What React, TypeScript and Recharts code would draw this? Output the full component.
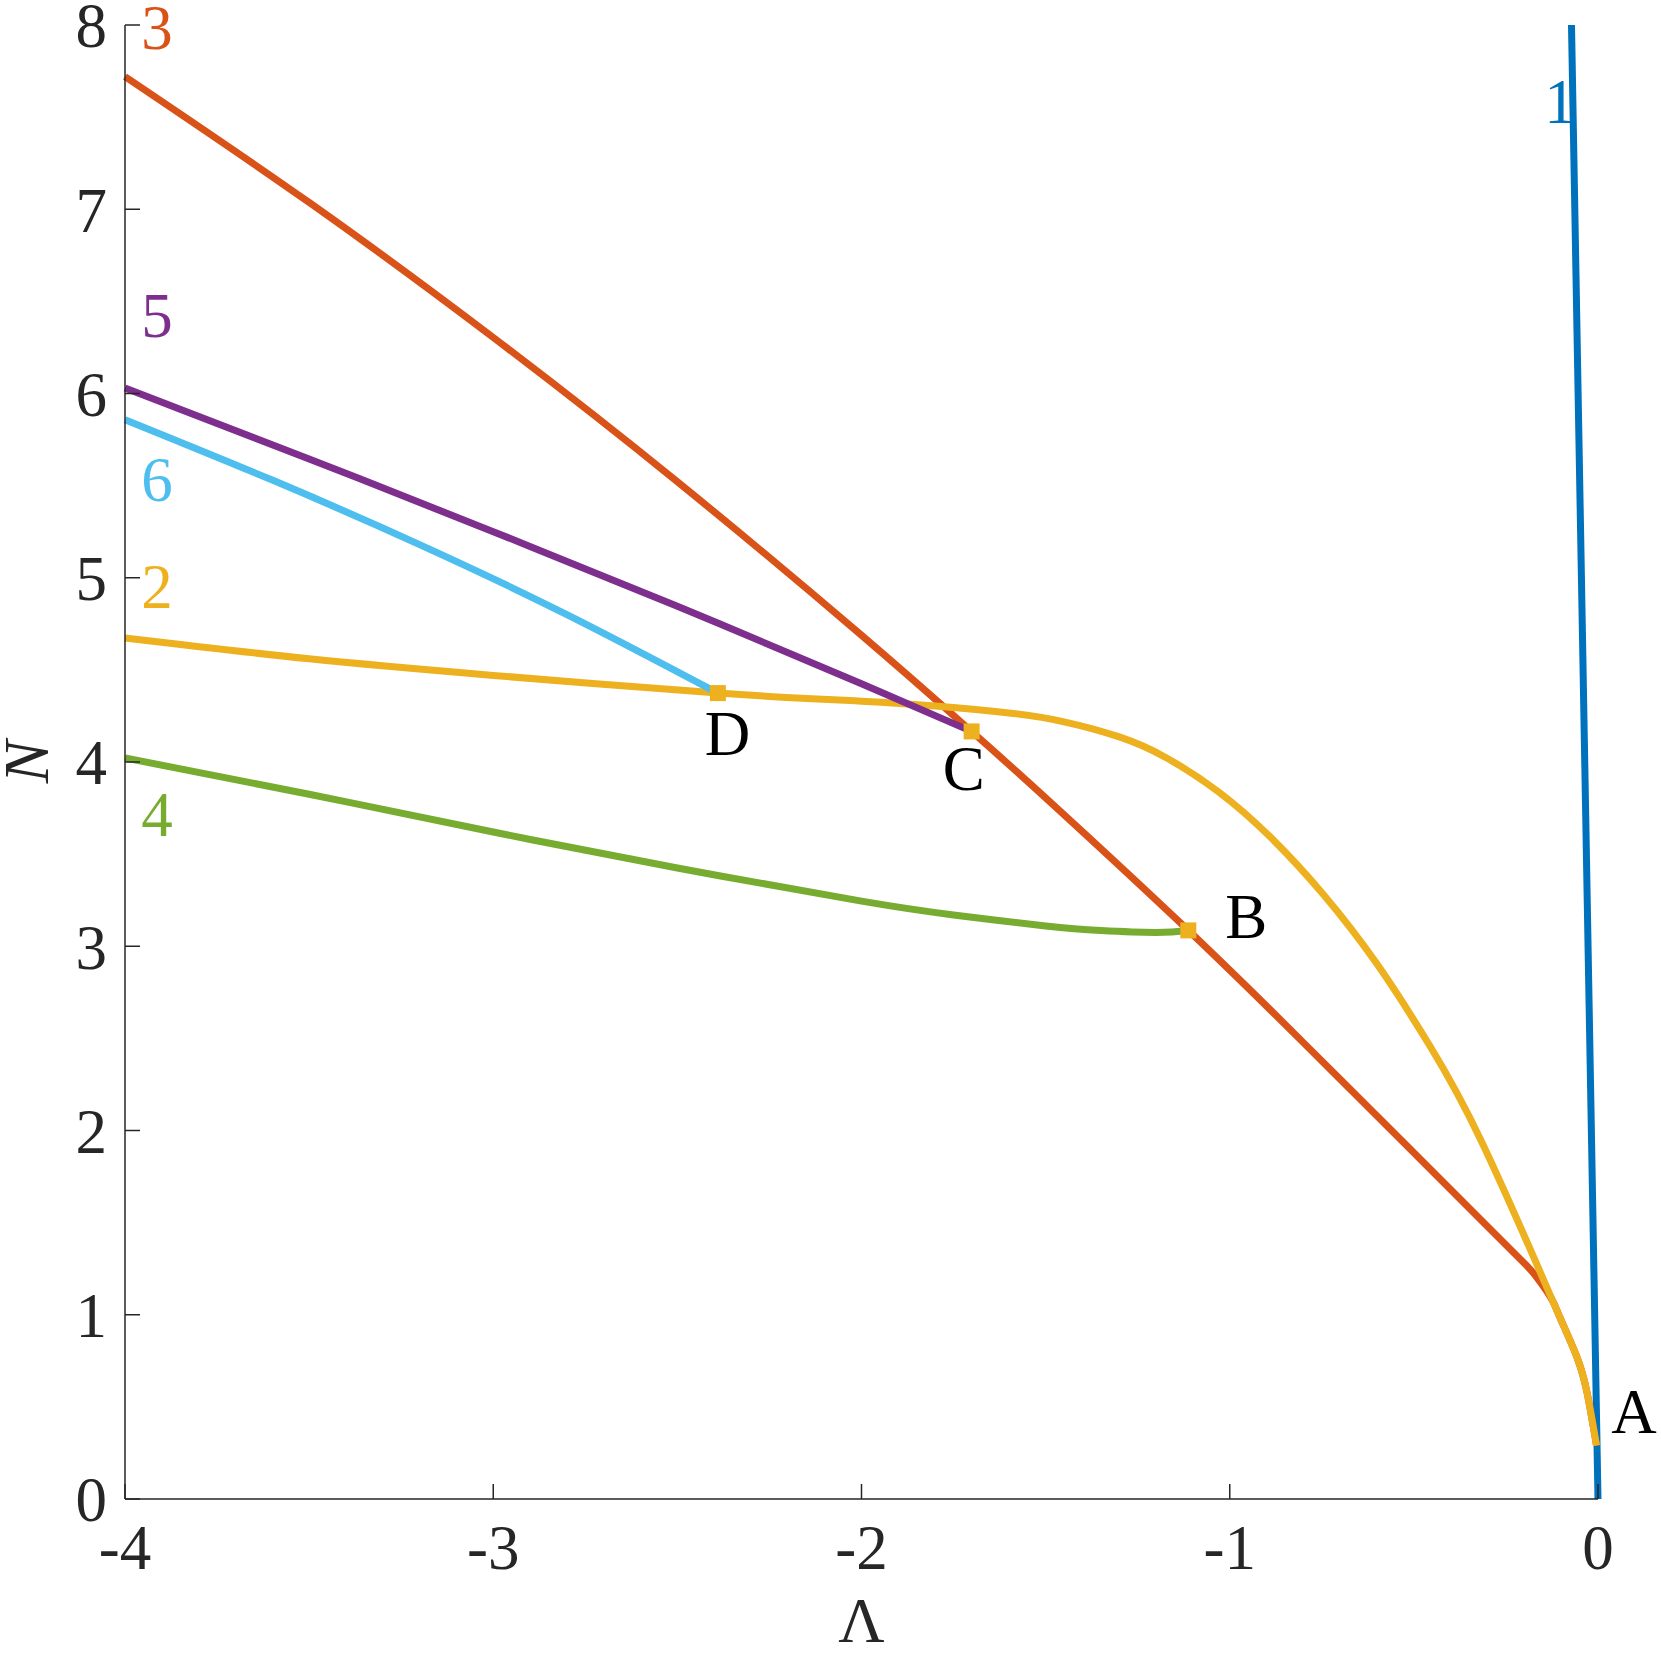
import React from "react";
import { ComposedChart, Line, Scatter, XAxis, YAxis, ReferenceDot } from "recharts";

const SERIF = "'Liberation Serif', 'DejaVu Serif', serif";
const AXIS = "#262626";

const xTicks = [-4, -3, -2, -1, 0];
const yTicks = [0, 1, 2, 3, 4, 5, 6, 7, 8];

// curve 1 (blue, nearly vertical)
const lambda1 = [-0.072, 0];
const n1 = [8, 0];

// curve 3 (orange)
const lambda3 = [-4, -3.5, -3, -2.5, -2, -1.701, -1.5, -1.1125, -0.8, -0.5, -0.3, -0.2, -0.171, -0.14, -0.12, -0.1, -0.058, -0.03, -0.004];
const n3 = [7.72, 7.037, 6.304, 5.521, 4.688, 4.166, 3.805, 3.086, 2.477, 1.879, 1.479, 1.279, 1.215, 1.13, 1.062, 0.97, 0.774, 0.58, 0.29];

// curve 2 (yellow)
const lambda2 = [-4, -3.5, -3, -2.39, -2, -1.8, -1.6, -1.45, -1.3, -1.175, -1.03, -0.887, -0.744, -0.6, -0.456, -0.316, -0.144, -0.1, -0.058, -0.03, -0.004];
const n2 = [4.673, 4.56, 4.47, 4.374, 4.33, 4.304, 4.266, 4.218, 4.136, 4.026, 3.837, 3.587, 3.277, 2.903, 2.457, 1.939, 1.172, 0.97, 0.774, 0.58, 0.29];

// curve 4 (green)
const lambda4 = [-4, -3.5, -3, -2.5, -2, -1.75, -1.5, -1.35, -1.2, -1.1125];
const n4 = [4.022, 3.825, 3.62, 3.425, 3.245, 3.17, 3.11, 3.085, 3.075, 3.086];

// curve 5 (purple)
const lambda5 = [-4, -3.5, -3, -2.5, -2, -1.701];
const n5 = [6.03, 5.645, 5.25, 4.845, 4.425, 4.166];

// curve 6 (cyan)
const lambda6 = [-4, -3.6, -3.2, -2.8, -2.39];
const n6 = [5.858, 5.53, 5.18, 4.8, 4.374];

// junction markers B, C, D
const markerLambda = [-1.1125, -1.701, -2.39];
const markerN = [3.086, 4.166, 4.374];

// text annotations
const noteText = ["1", "3", "5", "6", "2", "4", "A", "B", "C", "D"];
const noteLambda = [-0.103, -3.913, -3.913, -3.913, -3.913, -3.913, 0.098, -0.955, -1.722, -2.364];
const noteN = [7.57, 7.97, 6.41, 5.52, 4.94, 3.7, 0.46, 3.15, 3.95, 4.14];
const noteColor = ["#0072BD", "#D95319", "#7E2F8E", "#4DBEEE", "#EDB120", "#77AC30", "#000", "#000", "#000", "#000"];

const zip = (xs: number[], ys: number[]) => xs.map((x, i) => ({ x, y: ys[i] }));

const series = [
  { key: "c1", data: zip(lambda1, n1), color: "#0072BD", type: "linear" as const },
  { key: "c3", data: zip(lambda3, n3), color: "#D95319", type: "natural" as const },
  { key: "c2", data: zip(lambda2, n2), color: "#EDB120", type: "natural" as const },
];
const laterSeries = [
  { key: "c4", data: zip(lambda4, n4), color: "#77AC30" },
  { key: "c5", data: zip(lambda5, n5), color: "#7E2F8E" },
  { key: "c6", data: zip(lambda6, n6), color: "#4DBEEE" },
];

const markers = zip(markerLambda, markerN);

export default function App() {
  return (
    <div style={{ position: "absolute", left: 0, top: 0, background: "#fff" }}>
      <ComposedChart width={1661} height={1656} margin={{ top: 25, right: 63, bottom: 0, left: 0 }}>
        <XAxis
          type="number"
          dataKey="x"
          domain={[-4, 0]}
          ticks={xTicks}
          interval={0}
          height={157}
          tickSize={-15}
          tickMargin={40}
          stroke={AXIS}
          strokeWidth={1.5}
          tick={{ fill: AXIS, fontSize: 63, fontFamily: SERIF }}
          label={{
            content: ({ viewBox }: any) => {
              const vb = viewBox ?? { x: 125, y: 1499, width: 1473, height: 157 };
              return (
                <text x={vb.x + vb.width / 2} y={vb.y + 143} textAnchor="middle" fontSize={64} fontFamily={SERIF} fill={AXIS}>
                  Λ
                </text>
              );
            },
          }}
        />
        <YAxis
          type="number"
          dataKey="y"
          domain={[0, 8]}
          ticks={yTicks}
          interval={0}
          width={125}
          tickSize={-15}
          tickMargin={33}
          stroke={AXIS}
          strokeWidth={1.5}
          tick={{ fill: AXIS, fontSize: 63, fontFamily: SERIF }}
          label={{
            content: ({ viewBox }: any) => {
              const vb = viewBox ?? { x: 0, y: 25, width: 125, height: 1474 };
              const cx = vb.x + 48;
              const cy = vb.y + vb.height / 2;
              return (
                <text x={cx} y={cy} transform={`rotate(-90, ${cx}, ${cy})`} textAnchor="middle" fontSize={64} fontStyle="italic" fontFamily={SERIF} fill={AXIS}>
                  N
                </text>
              );
            },
          }}
        />
        {series.map((s) => (
          <Line key={s.key} data={s.data} dataKey="y" type={s.type} stroke={s.color} strokeWidth={7} dot={false} activeDot={false} isAnimationActive={false} />
        ))}
        <Scatter
          data={markers}
          dataKey="y"
          isAnimationActive={false}
          shape={(p: any) => <rect x={p.cx - 8} y={p.cy - 8} width={16} height={16} fill="#EDB120" />}
        />
        {laterSeries.map((s) => (
          <Line key={s.key} data={s.data} dataKey="y" type="natural" stroke={s.color} strokeWidth={7} dot={false} activeDot={false} isAnimationActive={false} />
        ))}
        {noteText.map((t, i) => (
          <ReferenceDot
            key={t}
            x={noteLambda[i]}
            y={noteN[i]}
            r={0}
            ifOverflow="visible"
            shape={(p: any) => (
              <text x={p.cx} y={p.cy} dy="0.3em" textAnchor="middle" fontSize={63} fontFamily={SERIF} fill={noteColor[i]}>
                {t}
              </text>
            )}
          />
        ))}
      </ComposedChart>
    </div>
  );
}
